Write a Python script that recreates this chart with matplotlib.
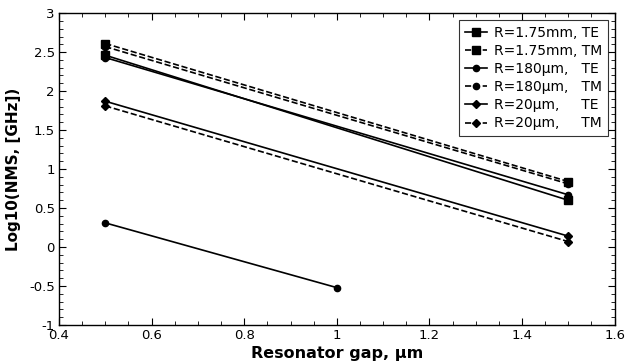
import matplotlib.pyplot as plt
from matplotlib.ticker import MultipleLocator, FuncFormatter

# gap values (um) and log10(NMS)
gap = [0.5, 1.5]
te_175mm = [2.46, 0.60]
tm_175mm = [2.61, 0.84]
te_180um = [2.43, 0.67]
tm_180um = [2.57, 0.81]
te_20um = [1.87, 0.14]
tm_20um = [1.81, 0.07]
gap_extra = [0.5, 1.0]
extra = [0.31, -0.52]

fig = plt.figure(figsize=(6.25, 3.64), dpi=100)
ax = fig.add_axes([0.0944, 0.107, 0.889, 0.857])

ax.plot(gap, te_175mm, 'k-', marker='s', ms=6, lw=1.2, label='R=1.75mm, TE')
ax.plot(gap, tm_175mm, 'k--', marker='s', ms=6, lw=1.2, label='R=1.75mm, TM')
ax.plot(gap, te_180um, 'k-', marker='o', ms=4.5, lw=1.2, label='R=180µm,   TE')
ax.plot(gap, tm_180um, 'k--', marker='o', ms=4.5, lw=1.2, label='R=180µm,   TM')
ax.plot(gap, te_20um, 'k-', marker='D', ms=4, lw=1.2, label='R=20µm,     TE')
ax.plot(gap, tm_20um, 'k--', marker='D', ms=4, lw=1.2, label='R=20µm,     TM')
ax.plot(gap_extra, extra, 'k-', marker='o', ms=4.5, lw=1.2)

ax.set_xlim(0.4, 1.6)
ax.set_ylim(-1, 3)
fmt = FuncFormatter(lambda v, p: ('%g' % round(v, 3)).replace('−', '-'))
ax.xaxis.set_major_locator(MultipleLocator(0.2))
ax.xaxis.set_minor_locator(MultipleLocator(0.05))
ax.yaxis.set_major_locator(MultipleLocator(0.5))
ax.yaxis.set_minor_locator(MultipleLocator(0.1))
ax.xaxis.set_major_formatter(fmt)
ax.yaxis.set_major_formatter(fmt)
ax.tick_params(which='both', direction='in', top=True, right=True, labelsize=9.5, pad=3)
ax.tick_params(which='major', length=5)
ax.tick_params(which='minor', length=3)
for s in ax.spines.values():
    s.set_linewidth(1.0)

ax.set_xlabel('Resonator gap, µm', fontsize=11.5, fontweight='bold', labelpad=3)
ax.set_ylabel('Log10(NMS, [GHz])', fontsize=11, fontweight='bold', labelpad=6)

leg = ax.legend(loc='upper right', fontsize=10, fancybox=False, edgecolor='black',
                handlelength=1.6, handletextpad=0.5, labelspacing=0.3,
                borderaxespad=0.5, borderpad=0.4)
leg.get_frame().set_linewidth(0.8)

fig.savefig('out.png', dpi=100)
